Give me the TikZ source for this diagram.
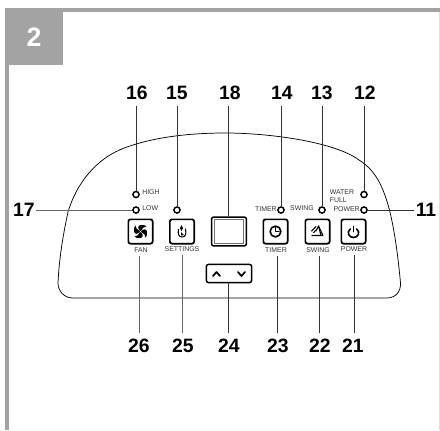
\documentclass[tikz,border=0pt]{standalone}
\usepackage{fontspec}
\setmainfont{Liberation Sans}
\begin{document}
\begin{tikzpicture}[x=0.75pt,y=-0.75pt,
  num/.style={font=\bfseries\fontsize{14.5}{15}\selectfont,inner sep=0pt,outer sep=4.5pt,text=black,anchor=center},
  tiny/.style={font=\fontsize{5.2}{5.8}\selectfont,inner sep=0pt,text=black!80,align=left},
  led/.style={circle,draw=black,line width=1.1pt,fill=white,minimum size=4.6pt,inner sep=0pt},
  btn/.style={draw=black,line width=1.3pt,rounded corners=1.6pt,fill=white,inner sep=0pt,minimum width=18.2pt,minimum height=18.2pt},
  leader/.style={draw=black!80,line width=0.65pt},
  icon/.style={draw=black,line width=0.9pt,line cap=round,line join=round}]
\definecolor{framegrey}{HTML}{A3A3A3}
\useasboundingbox (0,0) rectangle (440,430);
\fill[white] (0,0) rectangle (440,430);
% frame
\fill[framegrey] (5,8) rectangle (440,12);
\fill[framegrey] (5,8) rectangle (9,430);
\fill[black!12] (439,12) rectangle (440,430);
\fill[framegrey] (5,8) rectangle (63,65);
\node[font=\bfseries\fontsize{20}{21}\selectfont,text=white,inner sep=0pt] (tab) at (34,37.5) {2};
% panel outline
\draw[black,line width=0.55pt]
  (73,298) -- (387,298)
  .. controls (396,298) and (401,291) .. (400.5,283)
  .. controls (397,245) and (393,225) .. (390,212)
  .. controls (383,185) and (375,170) .. (359,160)
  .. controls (335,142) and (270,133) .. (225,133)
  .. controls (190,133) and (155,137) .. (127,147)
  .. controls (95,158) and (76,185) .. (68,212)
  .. controls (63,235) and (59,260) .. (58,283)
  .. controls (58,291) and (64,298) .. (73,298) -- cycle;
% display and arrows
\node[btn,minimum width=26.2pt,minimum height=21.6pt,line width=1.1pt] (disp) at (229,231.5) {};
\draw[black!55,line width=0.6pt] (214.5,219.5) rectangle (243.5,243.5);
\node[btn,minimum width=34pt,minimum height=13.6pt,line width=1.1pt] (arrows) at (229,273.5) {};
\draw[icon,line width=1.3pt] (213,276) -- (216.5,272) -- (220,276);
\draw[icon,line width=1.3pt] (238,272) -- (241.5,276) -- (245,272);
% buttons
\node[btn] (bfan) at (140.5,231.5) {};
\node[btn] (bset) at (182,231.5) {};
\node[btn] (btim) at (275.5,231.5) {};
\node[btn] (bswi) at (317.5,231.5) {};
\node[btn] (bpow) at (353.5,231.5) {};
% fan icon
\foreach \a in {0,90,180,270}{
  \fill[black,rotate around={\a:(140.5,231.5)}] (140.5,231) .. controls (137.5,229) and (137.5,225.5) .. (140.5,225) .. controls (143,224.6) and (145.5,225) .. (146.5,226.5) .. controls (144,226.5) and (142,228) .. (141,231) -- cycle;
}
\fill[white] (140.5,231.5) circle (0.7);
% settings icon
\draw[icon,line width=0.8pt] (178.5,229.5) .. controls (177.5,234) and (179,237) .. (182,237) .. controls (185.5,237) and (186.5,234) .. (185.5,229);
\fill[black] (181.5,225) -- (183,228) -- (181.5,231) -- (180,228) -- cycle;
\fill[black] (181,232) -- (184,235) -- (181,235.5) -- cycle;
% clock icon
\draw[icon,line width=1.2pt] (275.5,231.5) circle (5.4);
\draw[icon] (275.5,227.5) -- (275.5,231.5) -- (279,231.5);
% swing icon
\draw[icon,line width=0.8pt] (312,235.5) -- (323,235.5) -- (318.5,226) -- (316,231);
\draw[icon,line width=0.8pt] (311.5,231) -- (316,226.5);
\draw[icon,line width=0.8pt] (313.5,232.5) -- (317,229);
\draw[icon,line width=0.8pt] (318.5,226) -- (321,235.5);
% power icon
\draw[icon,line width=1.2pt] (350.3,229) .. controls (346.5,232) and (348.5,237.5) .. (353.5,237.5) .. controls (358.5,237.5) and (360.5,232) .. (356.7,229);
\draw[icon,line width=1.2pt] (353.5,226.5) -- (353.5,231.5);
% LEDs
\node[led] (c16) at (136,194.5) {};
\node[led] (c17) at (136,210) {};
\node[led] (c15) at (177,210) {};
\node[led] (c14) at (281,210) {};
\node[led] (c13) at (322,210) {};
\node[led] (c12) at (364,194.5) {};
\node[led] (c11) at (364,210) {};
% small labels
\node[tiny,anchor=west] (thigh) at (142,192.5) {HIGH};
\node[tiny,anchor=west] (tlow) at (142,208) {LOW};
\node[tiny,anchor=east] (ttimer) at (277,209.5) {TIMER};
\node[tiny,anchor=east] (tswing) at (314,208.5) {SWING};
\node[tiny,anchor=east] (tpower) at (360,209.5) {POWER};
\node[tiny,anchor=west] (twater) at (329.5,196) {WATER\\FULL};
\node[tiny,outer sep=2.5pt] (lfan) at (141,250.5) {FAN};
\node[tiny,outer sep=2.5pt] (lset) at (182,249.5) {SETTINGS};
\node[tiny,outer sep=2.5pt] (ltim) at (276,250.5) {TIMER};
\node[tiny,outer sep=2.5pt] (lswi) at (318,250.5) {SWING};
\node[tiny,outer sep=2.5pt] (lpow) at (354,249.5) {POWER};
% numbers
\node[num] (n16) at (137,93) {16};
\node[num] (n15) at (177,93) {15};
\node[num] (n18) at (230,93) {18};
\node[num] (n14) at (282,93) {14};
\node[num] (n13) at (322,93) {13};
\node[num] (n12) at (365,93) {12};
\node[num,outer sep=1pt] (n17) at (24,210) {17};
\node[num,outer sep=1pt] (n11) at (426,210) {11};
\node[num] (n26) at (139,346) {26};
\node[num] (n25) at (183,346) {25};
\node[num] (n24) at (229,346) {24};
\node[num] (n23) at (278,346) {23};
\node[num] (n22) at (320,346) {22};
\node[num] (n21) at (353,346) {21};
% leaders
\draw[leader] (c16 |- n16.south) -- (c16);
\draw[leader] (c15 |- n15.south) -- (c15);
\draw[leader] (228,0 |- n18.south) -- (228,0 |- disp.north);
\draw[leader] (c14 |- n14.south) -- (c14);
\draw[leader] (c13 |- n13.south) -- (c13);
\draw[leader] (c12 |- n12.south) -- (c12);
\draw[leader,draw=black!60] (n17.east) -- (c17);
\draw[leader] (c11) -- (n11.west);
\draw[leader,draw=black!60] (n26.north -| 139,0) -- (139,0 |- lfan.south);
\draw[leader,draw=black!60] (n25.north -| 182,0) -- (182,0 |- lset.south);
\draw[leader] (n24.north -| 228,0) -- (228,0 |- arrows.south);
\draw[leader] (n23.north -| 277,0) -- (277,0 |- ltim.south);
\draw[leader] (n22.north -| 319,0) -- (319,0 |- lswi.south);
\draw[leader] (n21.north -| 354,0) -- (354,0 |- lpow.south);
\end{tikzpicture}
\end{document}
